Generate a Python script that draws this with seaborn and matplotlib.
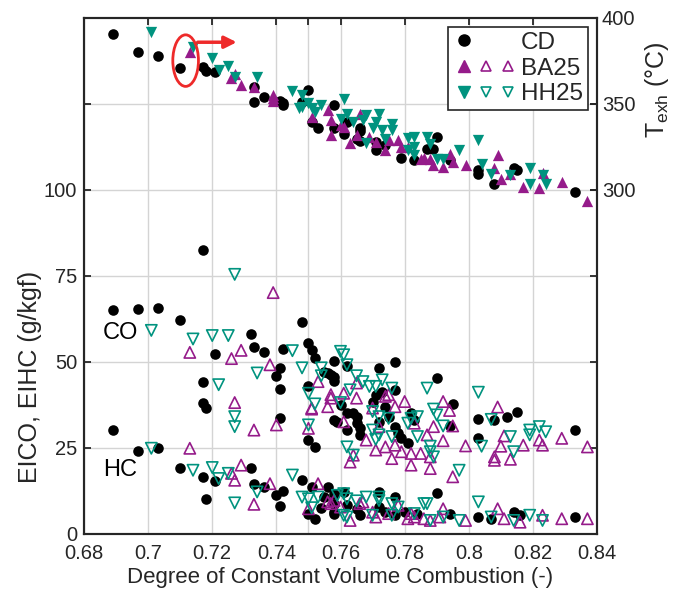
import matplotlib
matplotlib.use("Agg")
import matplotlib.pyplot as plt
import seaborn as sns
from matplotlib.lines import Line2D
from matplotlib.legend_handler import HandlerTuple
from matplotlib.patches import Ellipse, FancyArrowPatch

# ---------------- data ----------------
# Exhaust temperature (right axis, deg C)
cd_t_x = [0.689, 0.697, 0.703, 0.710, 0.717, 0.718, 0.721, 0.733, 0.736, 0.733, 0.741, 0.742, 0.742,
          0.750, 0.758, 0.748, 0.751, 0.753, 0.758, 0.761, 0.766, 0.765, 0.771, 0.779, 0.783, 0.790,
          0.789, 0.762, 0.766, 0.766, 0.771, 0.774, 0.787, 0.794, 0.803, 0.803, 0.808, 0.814, 0.815, 0.833]
cd_t_y = [390.6, 380.0, 377.6, 371.0, 371.7, 369.4, 368.8, 359.6, 354.2, 350.9, 351.9, 350.3, 349.3,
          358.1, 349.3, 351.0, 339.6, 335.7, 335.7, 332.7, 335.7, 329.8, 323.0, 318.7, 317.1, 330.8,
          324.0, 339.6, 334.3, 328.4, 327.9, 325.9, 323.6, 317.1, 311.3, 309.0, 303.5, 312.9, 311.3, 298.7]

ba_t_x = [0.713, 0.727, 0.726, 0.729, 0.733, 0.739, 0.756, 0.739, 0.739, 0.751, 0.757, 0.757, 0.761,
          0.763, 0.765, 0.766, 0.769, 0.771, 0.774, 0.778, 0.779, 0.785, 0.788, 0.789, 0.760, 0.775,
          0.781, 0.786, 0.792, 0.794, 0.795, 0.799, 0.809, 0.808, 0.810, 0.813, 0.817, 0.822, 0.823,
          0.829, 0.837]
ba_t_y = [380.1, 367.3, 364.9, 361.0, 359.6, 353.2, 346.4, 355.1, 351.6, 342.5, 340.8, 331.9, 336.3,
          327.0, 331.9, 344.4, 330.8, 327.9, 323.0, 329.0, 325.0, 318.1, 318.1, 314.2, 337.6, 329.0,
          325.0, 318.7, 313.3, 321.0, 316.2, 314.2, 320.0, 312.9, 306.4, 309.4, 301.6, 301.2, 309.8,
          304.5, 293.7]

hh_t_x = [0.701, 0.714, 0.720, 0.722, 0.725, 0.727, 0.734, 0.745, 0.748, 0.748, 0.750, 0.754, 0.761,
          0.747, 0.751, 0.752, 0.760, 0.762, 0.764, 0.767, 0.768, 0.771, 0.772, 0.770, 0.773, 0.776,
          0.776, 0.774, 0.768, 0.781, 0.783, 0.783, 0.787, 0.788, 0.781, 0.783, 0.790, 0.792, 0.797,
          0.803, 0.804, 0.807, 0.813, 0.819, 0.819, 0.823, 0.824]
hh_t_y = [391.6, 383.3, 377.0, 369.8, 372.3, 365.5, 365.9, 357.7, 355.1, 348.4, 350.3, 349.3, 352.6,
          347.8, 347.8, 345.4, 341.5, 344.4, 339.6, 340.5, 343.5, 339.6, 344.4, 335.7, 334.7, 338.6,
          335.1, 329.8, 327.3, 330.3, 330.8, 325.0, 330.8, 326.9, 323.0, 320.0, 318.1, 318.1, 323.0,
          329.2, 315.2, 309.4, 308.4, 312.9, 303.5, 308.4, 303.5]

# Emission indices EICO / EIHC (left axis, g/kgf)
cd_e_x = [0.689, 0.697, 0.703, 0.710, 0.717, 0.732, 0.733, 0.736, 0.742, 0.748, 0.750, 0.751, 0.752,
          0.721, 0.717, 0.741, 0.740, 0.758, 0.762, 0.756, 0.758, 0.741, 0.750, 0.717, 0.718, 0.741,
          0.750, 0.752, 0.762, 0.758, 0.762, 0.765, 0.755, 0.757, 0.758, 0.764, 0.765, 0.759, 0.766,
          0.766, 0.760, 0.770, 0.771, 0.772, 0.772, 0.774, 0.775, 0.777, 0.790, 0.795, 0.803, 0.808,
          0.812, 0.815, 0.803, 0.777, 0.778, 0.773, 0.777, 0.782, 0.783, 0.781, 0.779, 0.794, 0.833,
          0.689, 0.697, 0.703, 0.710, 0.717, 0.721, 0.718, 0.732, 0.733, 0.736, 0.742, 0.740, 0.741,
          0.748, 0.751, 0.750, 0.752, 0.756, 0.758, 0.758, 0.758, 0.761, 0.762, 0.765, 0.766, 0.772,
          0.772, 0.774, 0.777, 0.777, 0.780, 0.784, 0.790, 0.803, 0.807, 0.814, 0.816, 0.833, 0.758,
          0.794, 0.755, 0.754]
cd_e_y = [64.9, 65.2, 65.7, 62.1, 82.5, 58.1, 54.2, 52.7, 53.8, 61.6, 55.3, 53.3, 51.1,
          52.3, 44.2, 48.3, 45.9, 50.3, 48.8, 46.7, 44.4, 42.0, 42.8, 37.9, 36.5, 33.5,
          27.2, 25.2, 35.0, 33.0, 30.1, 32.1, 46.9, 46.2, 45.5, 35.2, 34.0, 32.5, 30.8,
          28.7, 37.4, 38.4, 40.4, 48.3, 32.5, 36.9, 34.0, 49.9, 45.2, 37.7, 33.2, 33.0,
          34.0, 35.5, 27.7, 31.1, 29.2, 41.3, 41.8, 35.0, 33.0, 26.2, 27.7, 31.3, 30.1,
          30.1, 24.1, 24.8, 19.2, 16.3, 15.3, 9.9, 19.1, 14.3, 13.4, 12.3, 11.1, 8.0,
          15.5, 13.5, 5.8, 4.3, 13.5, 11.6, 8.7, 6.2, 12.1, 8.2, 7.2, 5.3, 12.1,
          7.7, 6.2, 10.6, 5.3, 6.2, 5.8, 11.8, 4.8, 4.3, 6.2, 5.3, 4.8, 5.8,
          5.8, 10.5, 7.5]

ba_e_x = [0.739, 0.713, 0.726, 0.729, 0.738, 0.753, 0.765, 0.727, 0.733, 0.740, 0.751, 0.757, 0.761,
          0.750, 0.756, 0.761, 0.757, 0.751, 0.765, 0.764, 0.768, 0.770, 0.774, 0.772, 0.771, 0.774,
          0.775, 0.777, 0.780, 0.777, 0.779, 0.782, 0.783, 0.785, 0.788, 0.787, 0.789, 0.792, 0.794,
          0.792, 0.795, 0.799, 0.809, 0.811, 0.810, 0.817, 0.808, 0.808, 0.813, 0.822, 0.823, 0.829,
          0.837, 0.795, 0.788, 0.782, 0.776, 0.763,
          0.713, 0.729, 0.726, 0.727, 0.738, 0.733, 0.753, 0.756, 0.750, 0.758, 0.763, 0.767, 0.771,
          0.778, 0.782, 0.786, 0.760, 0.766, 0.770, 0.775, 0.781, 0.783, 0.788, 0.791, 0.757, 0.809,
          0.811, 0.816, 0.823, 0.829, 0.837, 0.799, 0.792]
ba_e_y = [70.1, 52.7, 50.9, 53.3, 49.1, 44.2, 43.8, 38.1, 30.1, 31.6, 36.5, 40.4, 40.8,
          30.6, 36.9, 32.5, 39.4, 36.2, 39.4, 22.8, 27.2, 36.5, 39.9, 31.1, 24.3, 25.2,
          40.4, 36.9, 38.4, 25.7, 23.8, 23.3, 32.1, 23.3, 22.3, 28.7, 31.1, 38.4, 35.8,
          27.0, 31.3, 25.5, 36.8, 28.4, 25.4, 25.7, 22.3, 21.3, 21.6, 27.2, 25.7, 27.7,
          25.2, 16.5, 18.9, 19.9, 21.8, 20.8,
          24.8, 19.9, 17.5, 15.5, 14.5, 8.5, 14.5, 9.2, 7.2, 9.6, 3.8, 9.2, 4.8,
          8.2, 5.8, 4.3, 7.7, 8.7, 6.2, 5.8, 4.3, 4.8, 3.8, 4.8, 8.7, 7.2,
          4.3, 3.3, 5.3, 4.3, 4.3, 3.8, 7.2]

hh_e_x = [0.727, 0.701, 0.714, 0.720, 0.725, 0.734, 0.745, 0.748, 0.754, 0.760, 0.761, 0.762, 0.754,
          0.722, 0.765, 0.727, 0.727, 0.750, 0.752, 0.750, 0.762, 0.764, 0.763, 0.760, 0.767, 0.769,
          0.771, 0.773, 0.770, 0.772, 0.775, 0.770, 0.772, 0.787, 0.803, 0.807, 0.776, 0.782, 0.784,
          0.781, 0.789, 0.790, 0.792, 0.784, 0.776, 0.788, 0.788, 0.804, 0.814, 0.813, 0.819, 0.819,
          0.822, 0.824, 0.797, 0.789, 0.771,
          0.701, 0.714, 0.720, 0.722, 0.725, 0.727, 0.734, 0.745, 0.748, 0.750, 0.753, 0.761, 0.762,
          0.761, 0.803, 0.807, 0.814, 0.819, 0.823, 0.787, 0.788, 0.797, 0.759, 0.762, 0.768, 0.772,
          0.776, 0.770, 0.776, 0.783, 0.792, 0.772, 0.778, 0.786, 0.751, 0.765]
hh_e_y = [75.4, 59.1, 56.6, 57.6, 57.6, 46.7, 53.2, 48.2, 48.2, 53.0, 52.0, 49.1, 45.9,
          43.3, 45.9, 34.0, 31.1, 40.8, 37.7, 31.6, 25.2, 22.8, 41.8, 38.1, 44.2, 42.8,
          42.8, 44.7, 35.5, 34.0, 33.5, 30.1, 28.7, 42.3, 41.1, 33.2, 42.3, 33.5, 34.0,
          32.1, 36.2, 34.5, 31.3, 28.2, 28.2, 25.4, 23.8, 25.4, 23.8, 28.2, 30.1, 28.7,
          31.1, 29.6, 18.4, 22.3, 27.4,
          24.8, 18.4, 19.2, 16.0, 17.5, 8.9, 12.1, 17.0, 10.6, 10.1, 10.6, 11.6, 10.1,
          5.3, 9.2, 4.8, 3.8, 5.3, 3.8, 8.7, 3.8, 3.8, 11.1, 4.8, 10.6, 10.6,
          8.7, 5.3, 5.3, 5.8, 4.8, 9.6, 7.7, 8.7, 7.5, 9.5]

x_ticks = [0.68, 0.70, 0.72, 0.74, 0.76, 0.78, 0.80, 0.82, 0.84]
x_ticklabels = ["0.68", "0.7", "0.72", "0.74", "0.76", "0.78", "0.8", "0.82", "0.84"]
left_ticks = [0, 25, 50, 75, 100, 125]
left_ticklabels = ["0", "25", "50", "75", "100", ""]
right_ticks = [300, 350, 400]
series_names = ["CD", "BA25", "HH25"]

# ---------------- style ----------------
sns.set_style("white")
plt.rcParams['font.family'] = ['Liberation Sans', 'DejaVu Sans']
plt.rcParams['mathtext.fontset'] = 'custom'
plt.rcParams['mathtext.rm'] = 'Liberation Sans'
plt.rcParams['mathtext.it'] = 'Liberation Sans'

BLACK = '#000000'
PURPLE = '#951B8A'
TEAL = '#00937F'
AXC = '#262626'
FS_TICK = 14.5
FS_LAB = 16
FS_YLAB = 18

fig = plt.figure(figsize=(6.73, 5.92), dpi=100)
ax = fig.add_axes([0.1248, 0.0988, 0.7623, 0.8708])
ax2 = ax.twinx()

S_C, S_T = 58, 66
# emissions (left axis)
sns.scatterplot(x=cd_e_x, y=cd_e_y, ax=ax, marker='o', s=S_C, color=BLACK, edgecolor=BLACK, linewidth=0, zorder=3)
sns.scatterplot(x=ba_e_x, y=ba_e_y, ax=ax, marker='^', s=S_T, facecolor='none', edgecolor=PURPLE, linewidth=1.2, zorder=3)
sns.scatterplot(x=hh_e_x, y=hh_e_y, ax=ax, marker='v', s=S_T, facecolor='none', edgecolor=TEAL, linewidth=1.2, zorder=3)
# exhaust temperature (right axis)
sns.scatterplot(x=cd_t_x, y=cd_t_y, ax=ax2, marker='o', s=S_C, color=BLACK, edgecolor=BLACK, linewidth=0, zorder=3)
sns.scatterplot(x=ba_t_x, y=ba_t_y, ax=ax2, marker='^', s=S_T, color=PURPLE, edgecolor=PURPLE, linewidth=0, zorder=3)
sns.scatterplot(x=hh_t_x, y=hh_t_y, ax=ax2, marker='v', s=S_T, color=TEAL, edgecolor=TEAL, linewidth=0, zorder=3)

# axes limits / ticks
ax.set_xlim(0.68, 0.84)
ax.set_ylim(0, 150)
ax2.set_ylim(100, 400)
ax.set_xticks(x_ticks)
ax.set_xticklabels(x_ticklabels)
ax.set_xticks([0.75], minor=True)
ax.set_yticks(left_ticks)
ax.set_yticklabels(left_ticklabels)
ax2.set_yticks(right_ticks)
ax2.set_yticklabels([str(t) for t in right_ticks])

ax.grid(True, which='both', axis='x', color='#d4d4d4', linewidth=1.0)
ax.grid(True, which='major', axis='y', color='#d4d4d4', linewidth=1.0)
ax.set_axisbelow(True)

for a in (ax, ax2):
    for sp in a.spines.values():
        sp.set_linewidth(1.5)
        sp.set_color(AXC)
    a.tick_params(which='both', direction='in', length=5, width=1.3, color=AXC,
                  labelsize=FS_TICK, labelcolor=AXC)
ax.tick_params(which='both', top=True, right=True, labelright=False)
ax.tick_params(axis='x', which='both', pad=7.5)
ax.tick_params(axis='y', which='both', pad=5)
ax2.tick_params(right=True, labelright=True, left=False)

ax.set_ylabel("")
ax2.set_ylabel("")
ax.set_xlabel("Degree of Constant Volume Combustion (-)", fontsize=FS_LAB, color=AXC, labelpad=3)
fig.text(30 / 673, 1 - 377 / 592, "EICO, EIHC (g/kgf)", rotation=90, ha='center', va='center',
         fontsize=FS_YLAB, color=AXC)
fig.text(657 / 673, 1 - 90 / 592, r"T$_{\mathrm{exh}}$ (°C)", rotation=90, ha='center', va='center',
         fontsize=FS_YLAB, color=AXC)

ax.text(0.6859, 58.3, "CO", fontsize=17, va='center', ha='left', color='black')
ax.text(0.6859, 18.5, "HC", fontsize=17, va='center', ha='left', color='black')

# red annotation (ellipse + arrow)
ax2.add_patch(Ellipse((0.7117, 375.2), width=0.0080, height=30, fill=False, edgecolor='#ee2a2a',
                      linewidth=2, zorder=5))
ax2.add_patch(FancyArrowPatch((0.7146, 385.9), (0.7285, 385.9), arrowstyle='-|>', mutation_scale=18,
                              color='#ee2a2a', linewidth=2.5, zorder=5))

# legend
ms = 8.5
h_cd = (Line2D([], [], ls='', marker='o', color=BLACK, ms=ms - 0.5),
        Line2D([], [], ls='', marker=''), Line2D([], [], ls='', marker=''))
h_ba = (Line2D([], [], ls='', marker='^', color=PURPLE, ms=ms, mec=PURPLE),
        Line2D([], [], ls='', marker='^', mfc='none', mec=PURPLE, mew=1.2, ms=ms - 1.5),
        Line2D([], [], ls='', marker='^', mfc='none', mec=PURPLE, mew=1.2, ms=ms - 1))
h_hh = (Line2D([], [], ls='', marker='v', color=TEAL, ms=ms, mec=TEAL),
        Line2D([], [], ls='', marker='v', mfc='none', mec=TEAL, mew=1.2, ms=ms - 1.5),
        Line2D([], [], ls='', marker='v', mfc='none', mec=TEAL, mew=1.2, ms=ms - 1))
leg = ax2.legend([h_cd, h_ba, h_hh], series_names, handler_map={tuple: HandlerTuple(ndivide=None, pad=0)},
                 loc='upper right', bbox_to_anchor=(0.982, 0.9825), borderaxespad=0,
                 fontsize=17.5, handlelength=2.7, handletextpad=0.1, borderpad=0.2,
                 labelspacing=0.15, fancybox=False, framealpha=1, edgecolor=AXC)
leg.get_frame().set_linewidth(1.2)
leg.set_zorder(10)

fig.savefig("out.png", dpi=100)
